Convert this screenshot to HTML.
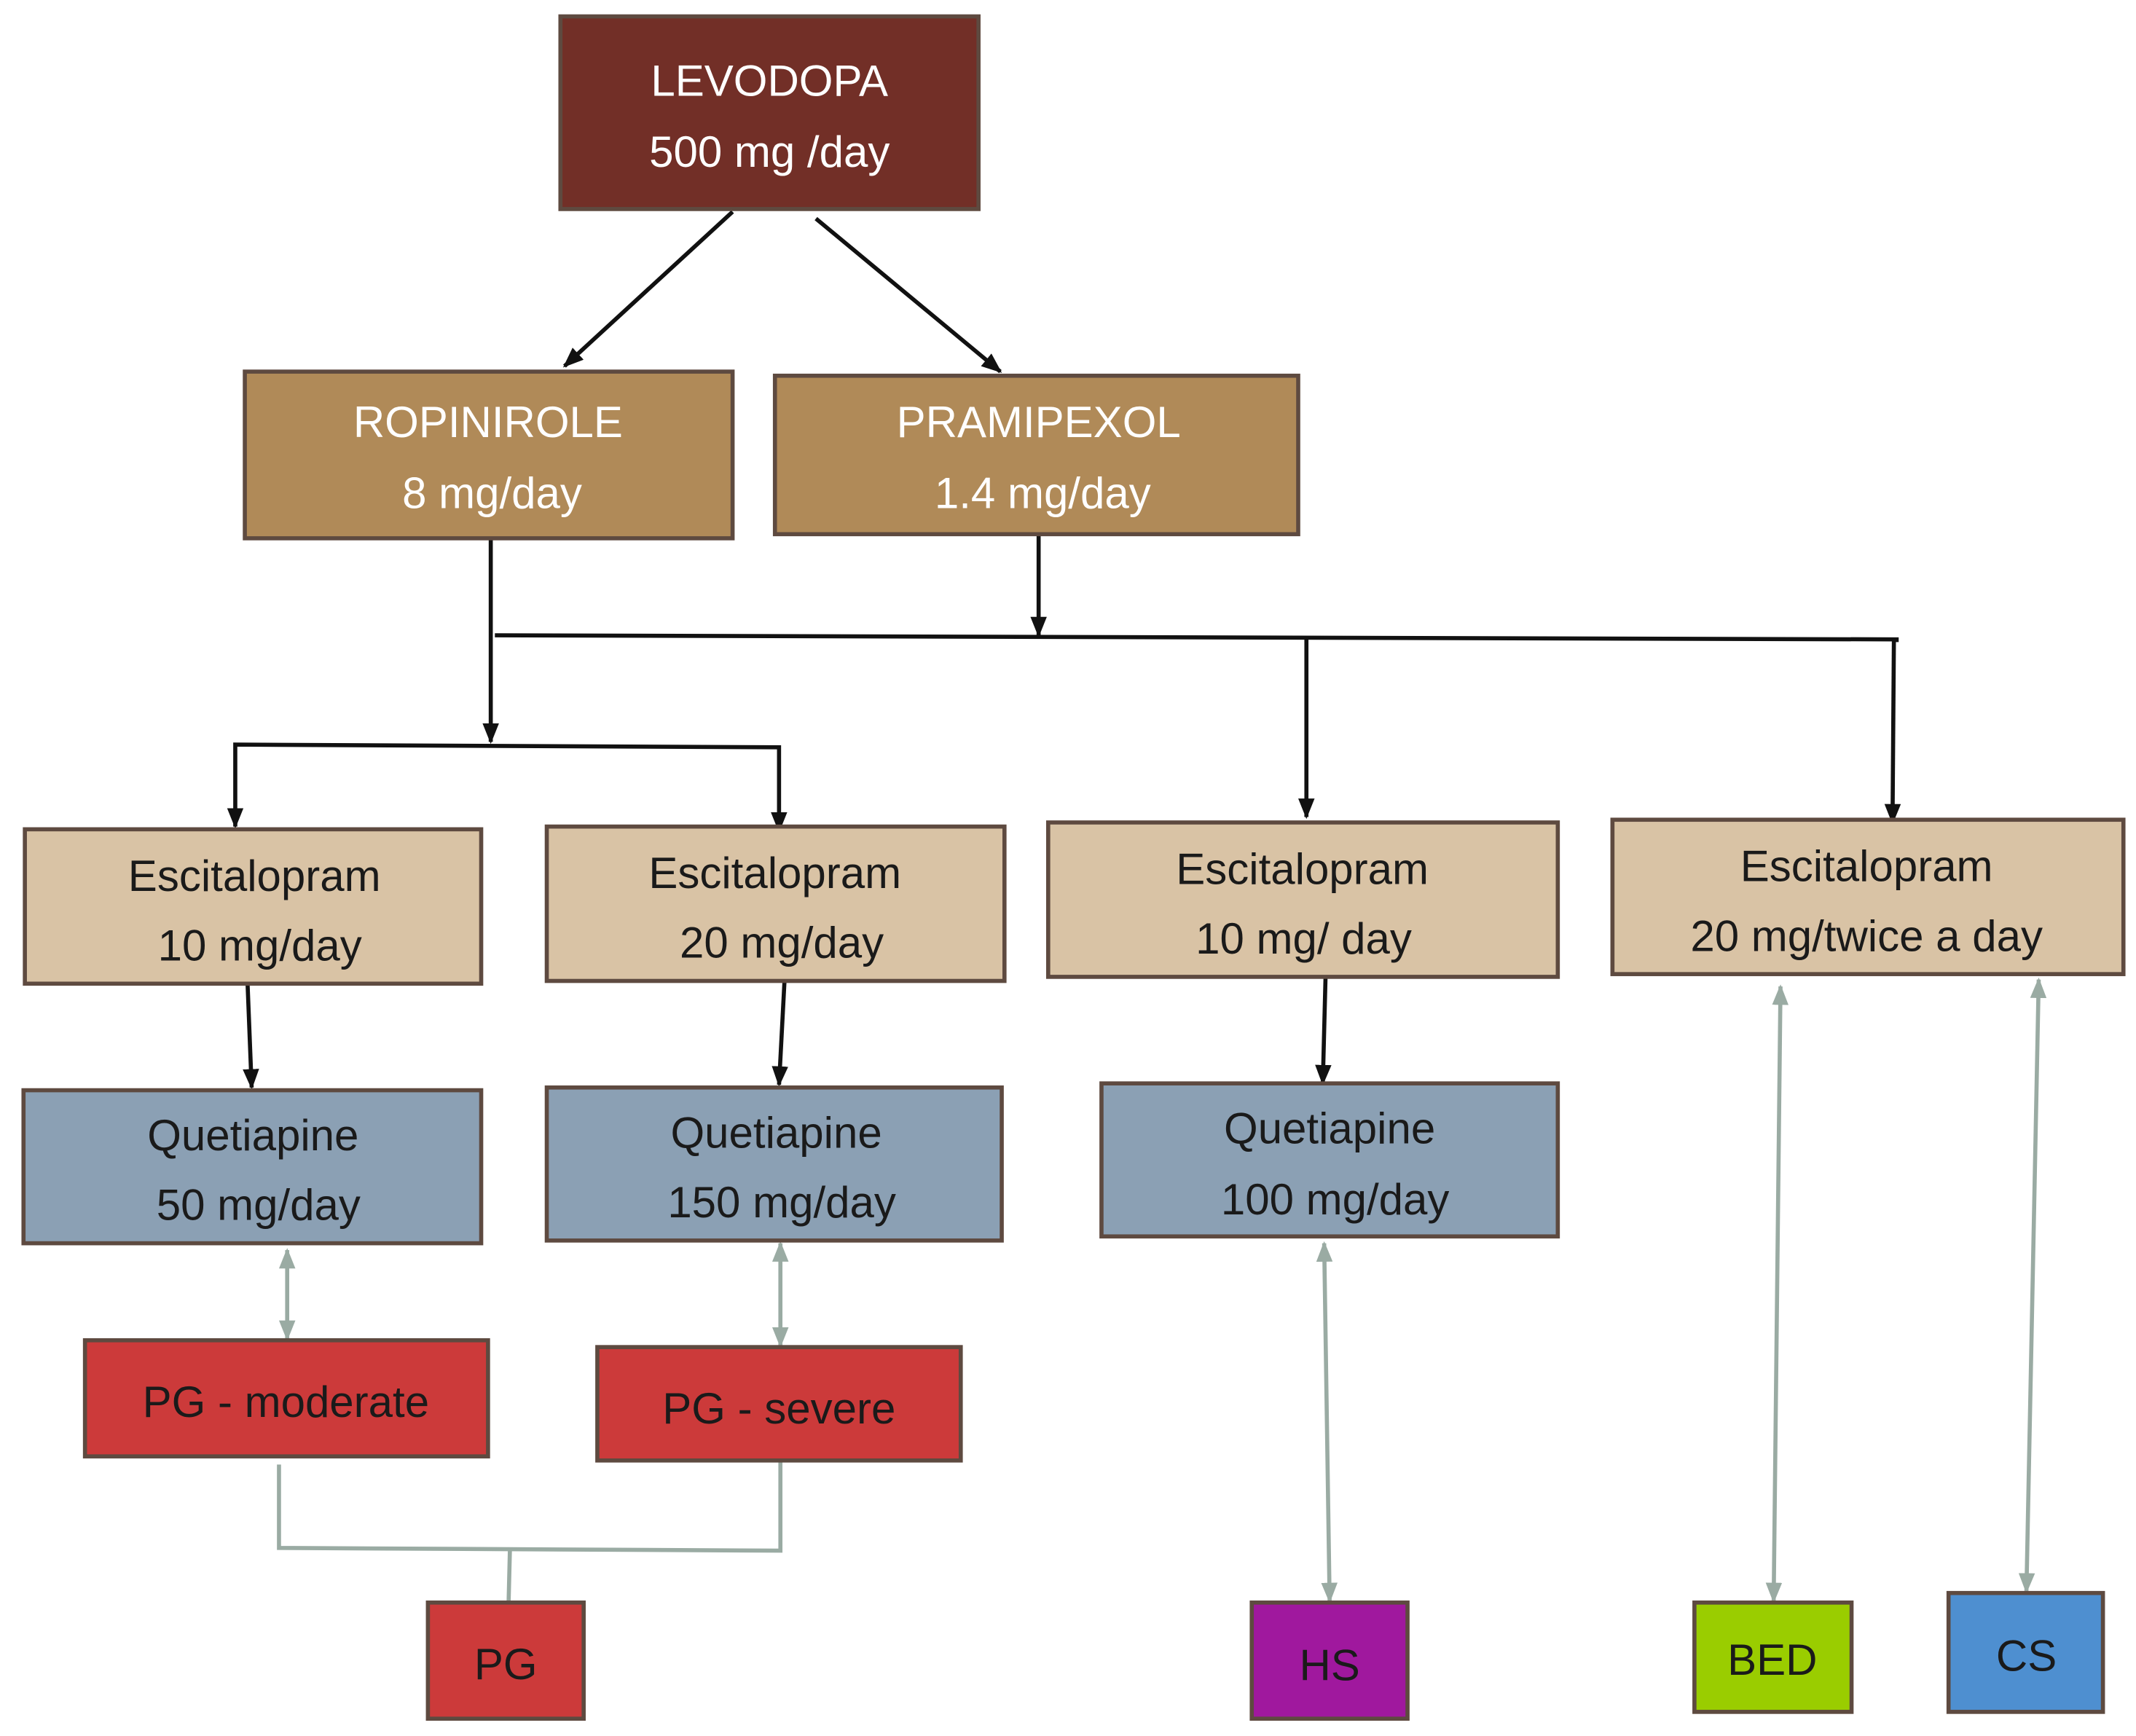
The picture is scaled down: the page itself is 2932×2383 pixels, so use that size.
<!DOCTYPE html>
<html><head><meta charset="utf-8"><style>html,body{margin:0;padding:0;background:#fff}</style></head>
<body>
<svg xmlns="http://www.w3.org/2000/svg" width="2932" height="2378" viewBox="0 0 1563 1268">
<defs>
<marker id="ab" viewBox="0 0 10 10" refX="9" refY="5" markerWidth="5" markerHeight="5" orient="auto-start-reverse"><path d="M0,1 L10,5 L0,9 z" fill="#111"/></marker>
<marker id="ag" viewBox="0 0 10 10" refX="9" refY="5" markerWidth="5" markerHeight="5" orient="auto-start-reverse"><path d="M0,1 L10,5 L0,9 z" fill="#9aaba3"/></marker>
</defs>
<rect width="1563" height="1268" fill="#fff"/>
<g stroke="#111" stroke-width="3" fill="none">
<line x1="536" y1="155" x2="413" y2="268" marker-end="url(#ab)"/>
<line x1="597" y1="160" x2="732" y2="272" marker-end="url(#ab)"/>
<line x1="359" y1="395" x2="359" y2="543" marker-end="url(#ab)"/>
<line x1="760" y1="392" x2="760" y2="465" marker-end="url(#ab)"/>
<polyline points="362,465 1388,468 1388,470"/>
<line x1="956" y1="468" x2="956" y2="598" marker-end="url(#ab)"/>
<line x1="1386" y1="468" x2="1385" y2="602" marker-end="url(#ab)"/>
<polyline points="172,605 172,545 570,547 570,608" marker-start="url(#ab)" marker-end="url(#ab)"/>
<line x1="181" y1="720" x2="184" y2="796" marker-end="url(#ab)"/>
<line x1="574" y1="718" x2="570" y2="794" marker-end="url(#ab)"/>
<line x1="970" y1="715" x2="968" y2="793" marker-end="url(#ab)"/>
</g>
<g stroke="#9aaba3" stroke-width="3" fill="none">
<line x1="210" y1="915" x2="210" y2="980" marker-start="url(#ag)" marker-end="url(#ag)"/>
<line x1="571" y1="910" x2="571" y2="985" marker-start="url(#ag)" marker-end="url(#ag)"/>
<line x1="969" y1="910" x2="973" y2="1172" marker-start="url(#ag)" marker-end="url(#ag)"/>
<line x1="1303" y1="722" x2="1298" y2="1172" marker-start="url(#ag)" marker-end="url(#ag)"/>
<line x1="1492" y1="717" x2="1483" y2="1165" marker-start="url(#ag)" marker-end="url(#ag)"/>
<polyline points="204,1072 204,1133 571,1135 571,1070"/>
<line x1="373" y1="1135" x2="372" y2="1175"/>
</g>
<g stroke="#5e4a40" stroke-width="3">
<rect x="410" y="12" width="306" height="141" fill="#722F27"/>
<rect x="179" y="272" width="357" height="122" fill="#B08A58"/>
<rect x="567" y="275" width="383" height="116" fill="#B08A58"/>
<rect x="18" y="607" width="334" height="113" fill="#D9C3A5"/>
<rect x="400" y="605" width="335" height="113" fill="#D9C3A5"/>
<rect x="767" y="602" width="373" height="113" fill="#D9C3A5"/>
<rect x="1180" y="600" width="374" height="113" fill="#D9C3A5"/>
<rect x="17" y="798" width="335" height="112" fill="#8BA0B4"/>
<rect x="400" y="796" width="333" height="112" fill="#8BA0B4"/>
<rect x="806" y="793" width="334" height="112" fill="#8BA0B4"/>
<rect x="62" y="981" width="295" height="85" fill="#CC3A3A"/>
<rect x="437" y="986" width="266" height="83" fill="#CC3A3A"/>
<rect x="313" y="1173" width="114" height="85" fill="#CC3A3A"/>
<rect x="916" y="1173" width="114" height="85" fill="#A0189E"/>
<rect x="1240" y="1173" width="115" height="80" fill="#9ACD00"/>
<rect x="1426" y="1166" width="113" height="87" fill="#4E8FD0"/>
</g>
<g font-family="Liberation Sans, sans-serif" font-size="32" text-anchor="middle">
<g fill="#fff">
<text x="563" y="70">LEVODOPA</text><text x="563" y="122">500 mg /day</text>
<text x="357" y="320">ROPINIROLE</text><text x="360" y="372">8 mg/day</text>
<text x="760" y="320">PRAMIPEXOL</text><text x="763" y="372">1.4 mg/day</text>
</g>
<g fill="#1a1a1a">
<text x="186" y="652">Escitalopram</text><text x="190" y="703">10 mg/day</text>
<text x="567" y="650">Escitalopram</text><text x="572" y="701">20 mg/day</text>
<text x="953" y="647">Escitalopram</text><text x="954" y="698">10 mg/ day</text>
<text x="1366" y="645">Escitalopram</text><text x="1366" y="696">20 mg/twice a day</text>
<text x="185" y="842">Quetiapine</text><text x="189" y="893">50 mg/day</text>
<text x="568" y="840">Quetiapine</text><text x="572" y="891">150 mg/day</text>
<text x="973" y="837">Quetiapine</text><text x="977" y="889">100 mg/day</text>
<text x="209" y="1037">PG - moderate</text>
<text x="570" y="1042">PG - severe</text>
<text x="370" y="1229">PG</text>
<text x="973" y="1230">HS</text>
<text x="1297" y="1226">BED</text>
<text x="1483" y="1223">CS</text>
</g>
</g>
</svg>
</body></html>
